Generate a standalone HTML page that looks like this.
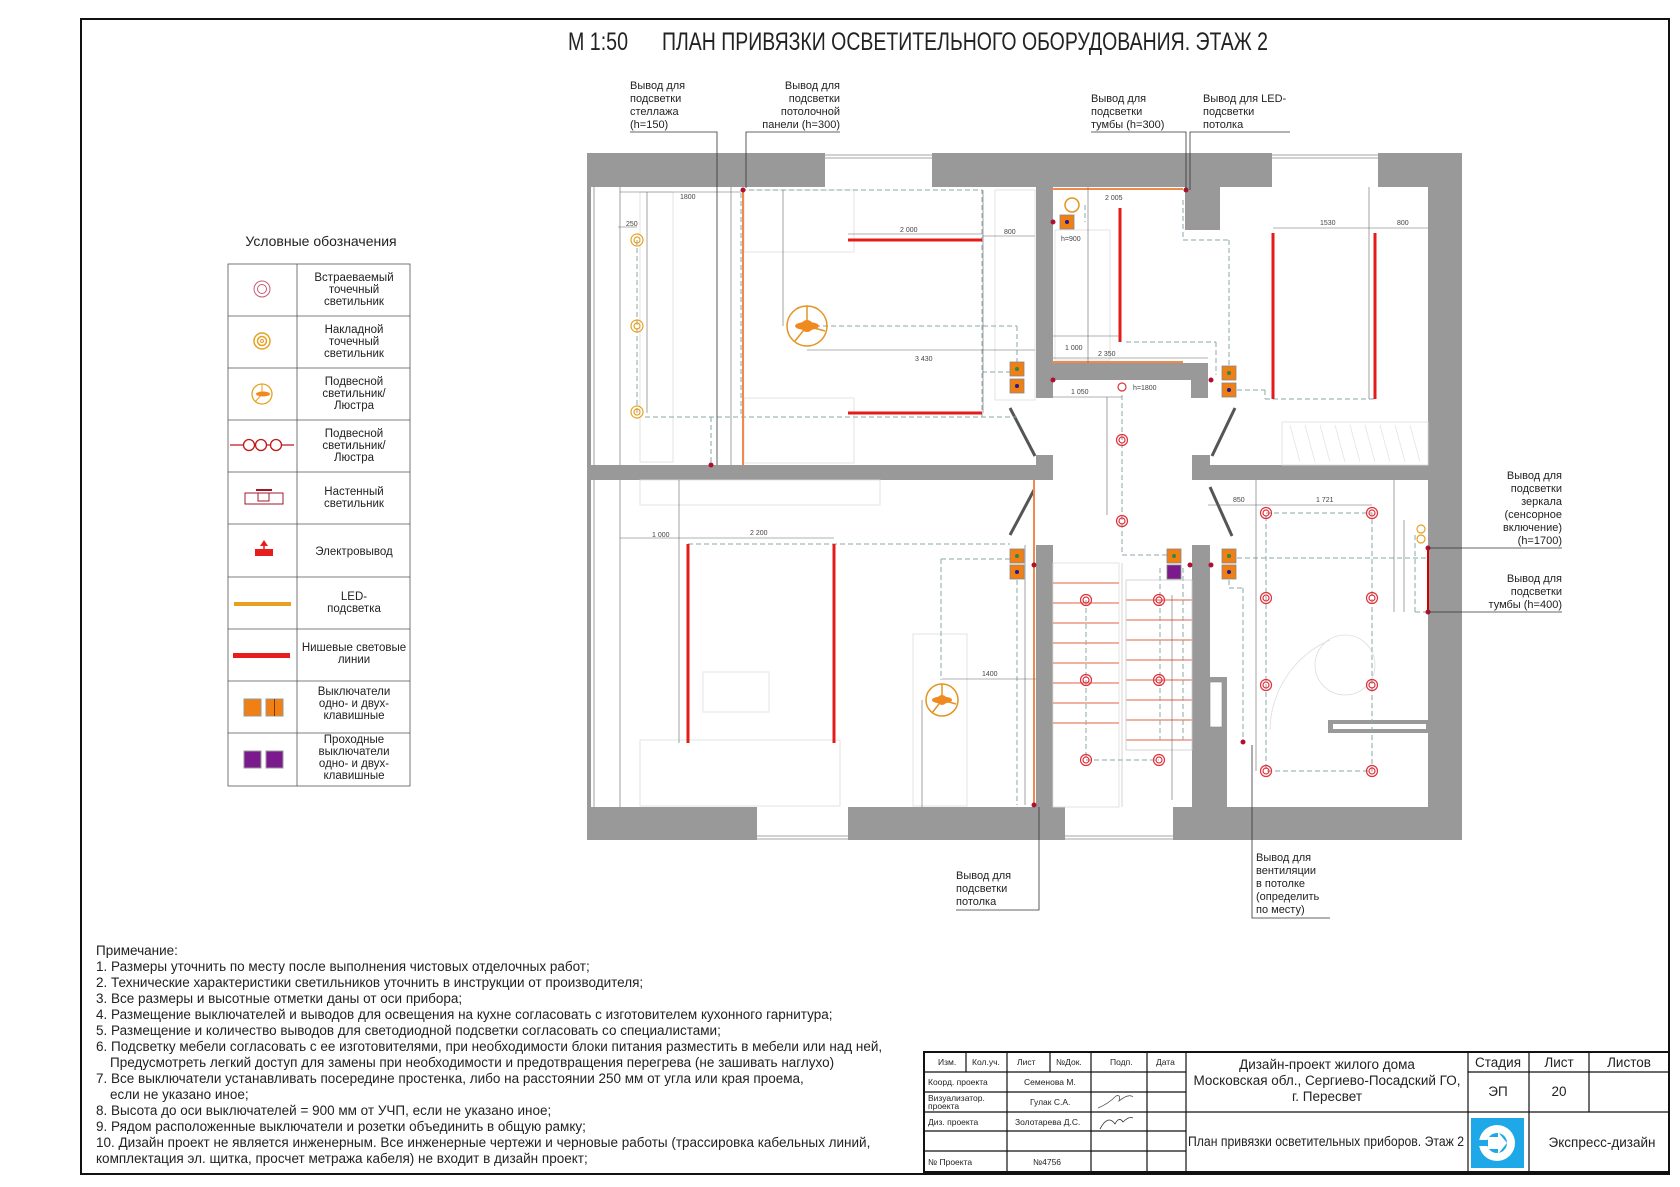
<!DOCTYPE html>
<html><head><meta charset="utf-8">
<style>
html,body{margin:0;padding:0;background:#fff;}
svg{display:block;}
text{font-family:"Liberation Sans Narrow","Liberation Sans","DejaVu Sans Condensed",sans-serif;fill:#222;}
.s{font-size:11px;}
.d{font-size:7px;fill:#444;}
.lg{font-size:11.5px;}
.n{font-size:13.5px;}
.tb{font-size:8.5px;}
</style></head><body>
<svg width="1680" height="1187" viewBox="0 0 1680 1187" xmlns="http://www.w3.org/2000/svg">
<rect x="81" y="19" width="1588" height="1155" fill="none" stroke="#111" stroke-width="2"/>
<text x="568" y="50" font-size="25" textLength="60" lengthAdjust="spacingAndGlyphs">М 1:50</text>
<text x="662" y="50" font-size="25" textLength="606" lengthAdjust="spacingAndGlyphs">ПЛАН ПРИВЯЗКИ ОСВЕТИТЕЛЬНОГО ОБОРУДОВАНИЯ. ЭТАЖ 2</text>

<!-- ===== PLAN WALLS ===== -->
<g fill="#999">
<rect x="587" y="153" width="238" height="34"/>
<rect x="932" y="153" width="340" height="34"/>
<rect x="1378" y="153" width="84" height="34"/>
<rect x="1185" y="153" width="35" height="77"/>
<rect x="587" y="153" width="4" height="687"/>
<rect x="1428" y="153" width="34" height="687"/>
<rect x="587" y="807" width="170" height="33"/>
<rect x="848" y="807" width="217" height="33"/>
<rect x="1173" y="807" width="289" height="33"/>
<rect x="587" y="465" width="449" height="15"/>
<rect x="1192" y="465" width="270" height="15"/>
<rect x="1036" y="187" width="17" height="211"/>
<rect x="1036" y="455" width="17" height="25"/>
<rect x="1036" y="545" width="17" height="295"/>
<rect x="1036" y="363" width="172" height="17"/>
<rect x="1036" y="363" width="17" height="35"/>
<rect x="1191" y="363" width="17" height="35"/>
<rect x="1192" y="455" width="18" height="25"/>
<rect x="1192" y="545" width="18" height="295"/>
<rect x="1210" y="677" width="17" height="163"/>
<rect x="1328" y="720" width="100" height="13"/>
</g>
<rect x="1333" y="724" width="93" height="5" fill="#fff"/>
<rect x="1210" y="682" width="12" height="45" fill="#fff" stroke="#888" stroke-width="0.6"/>
<g stroke="#888" stroke-width="0.8" fill="none">
<line x1="825" y1="155" x2="932" y2="155"/><line x1="825" y1="158" x2="932" y2="158"/>
<line x1="1272" y1="155" x2="1378" y2="155"/><line x1="1272" y1="158" x2="1378" y2="158"/>
<line x1="757" y1="836" x2="848" y2="836"/><line x1="757" y1="839" x2="848" y2="839"/>
<line x1="1065" y1="836" x2="1173" y2="836"/><line x1="1065" y1="839" x2="1173" y2="839"/>
<line x1="594" y1="187" x2="594" y2="465"/><line x1="594" y1="480" x2="594" y2="807"/>
<line x1="620" y1="187" x2="620" y2="465"/><line x1="620" y1="480" x2="620" y2="807"/>
</g>
<g stroke="#ddd" stroke-width="0.8" fill="none">
<rect x="744" y="190" width="110" height="62"/>
<rect x="744" y="398" width="110" height="65"/>
<rect x="640" y="192" width="33" height="270"/>
<rect x="640" y="480" width="240" height="25"/>
<rect x="640" y="740" width="200" height="66"/>
<rect x="703" y="672" width="66" height="40"/>
<rect x="913" y="634" width="54" height="172"/>
<rect x="1055" y="230" width="55" height="130"/>
<rect x="1282" y="422" width="146" height="43"/>
<rect x="995" y="190" width="40" height="210"/>
<rect x="1053" y="563" width="66" height="244"/>
<path d="M1330 640 a100 100 0 0 0 -60 90" />
<circle cx="1345" cy="665" r="30"/>
</g>
<g stroke="#e4e4e4" stroke-width="0.8">
<line x1="1290" y1="425" x2="1300" y2="462"/><line x1="1305" y1="425" x2="1315" y2="462"/><line x1="1320" y1="425" x2="1330" y2="462"/><line x1="1335" y1="425" x2="1345" y2="462"/><line x1="1350" y1="425" x2="1360" y2="462"/><line x1="1365" y1="425" x2="1375" y2="462"/><line x1="1380" y1="425" x2="1390" y2="462"/><line x1="1395" y1="425" x2="1405" y2="462"/><line x1="1410" y1="425" x2="1420" y2="462"/>
</g>
<g stroke="#555" stroke-width="3">
<line x1="1010" y1="408" x2="1035" y2="456"/>
<line x1="1010" y1="535" x2="1034" y2="490"/>
<line x1="1235" y1="408" x2="1212" y2="456"/>
<line x1="1232" y1="536" x2="1210" y2="487"/>
</g>

<g stroke="#8aa" stroke-width="1" stroke-dasharray="5,3" fill="none">
<rect x="741" y="190" width="241" height="227"/>
<line x1="637" y1="240" x2="637" y2="413"/>
<line x1="645" y1="417" x2="1017" y2="417"/>
<line x1="807" y1="326" x2="1017" y2="326"/>
<line x1="982" y1="372" x2="1010" y2="372"/>
<line x1="1017" y1="326" x2="1017" y2="362"/>
<line x1="711" y1="417" x2="711" y2="465"/>
<line x1="1183" y1="200" x2="1183" y2="240"/><line x1="1183" y1="240" x2="1229" y2="240"/><line x1="1229" y1="240" x2="1229" y2="365"/>
<line x1="1126" y1="342" x2="1216" y2="342"/><line x1="1216" y1="342" x2="1216" y2="375"/>
<line x1="1237" y1="390" x2="1265" y2="390"/><line x1="1265" y1="390" x2="1265" y2="399"/>
<line x1="1265" y1="399" x2="1375" y2="399"/>
<line x1="1122" y1="395" x2="1122" y2="555"/><line x1="1122" y1="555" x2="1168" y2="555"/>
<line x1="1160" y1="568" x2="1160" y2="740"/><line x1="1086" y1="600" x2="1086" y2="760"/><line x1="1086" y1="760" x2="1159" y2="760"/>
<line x1="1183" y1="568" x2="1183" y2="740"/>
<line x1="688" y1="544" x2="1010" y2="544"/>
<line x1="941" y1="559" x2="1010" y2="559"/><line x1="941" y1="559" x2="941" y2="680"/>
<line x1="1017" y1="580" x2="1017" y2="805"/>
<rect x="1266" y="513" width="106" height="258"/>
<line x1="1237" y1="558" x2="1426" y2="558"/>
<line x1="1229" y1="580" x2="1229" y2="588"/><line x1="1229" y1="588" x2="1243" y2="588"/><line x1="1243" y1="588" x2="1243" y2="740"/>
<line x1="1415" y1="535" x2="1415" y2="612"/><line x1="1415" y1="612" x2="1428" y2="612"/>
<line x1="1085" y1="205" x2="1085" y2="222"/>
</g>

<g stroke="#e8806a" stroke-width="1.2">
<line x1="1053" y1="583" x2="1119" y2="583"/><line x1="1053" y1="603" x2="1119" y2="603"/><line x1="1053" y1="623" x2="1119" y2="623"/><line x1="1053" y1="643" x2="1119" y2="643"/><line x1="1053" y1="663" x2="1119" y2="663"/><line x1="1053" y1="683" x2="1119" y2="683"/><line x1="1053" y1="703" x2="1119" y2="703"/><line x1="1053" y1="723" x2="1119" y2="723"/>
<line x1="1126" y1="600" x2="1192" y2="600"/><line x1="1126" y1="620" x2="1192" y2="620"/><line x1="1126" y1="640" x2="1192" y2="640"/><line x1="1126" y1="660" x2="1192" y2="660"/><line x1="1126" y1="680" x2="1192" y2="680"/><line x1="1126" y1="700" x2="1192" y2="700"/><line x1="1126" y1="720" x2="1192" y2="720"/><line x1="1126" y1="740" x2="1192" y2="740"/>
</g>
<g stroke="#ccc" stroke-width="0.8" fill="none"><line x1="1122" y1="563" x2="1122" y2="807"/><rect x="1126" y="580" width="66" height="170"/></g>

<g stroke="#f08a4b" stroke-width="2">
<line x1="1052" y1="189" x2="1183" y2="189"/>
<line x1="1052" y1="362" x2="1183" y2="362"/>
<line x1="1034" y1="480" x2="1034" y2="805"/>
<line x1="743" y1="190" x2="743" y2="465"/>
</g>
<g stroke="#e31b1b" stroke-width="3">
<line x1="848" y1="240" x2="982" y2="240"/>
<line x1="848" y1="413" x2="982" y2="413"/>
<line x1="1120" y1="208" x2="1120" y2="342"/>
<line x1="1273" y1="233" x2="1273" y2="399"/>
<line x1="1375" y1="233" x2="1375" y2="399"/>
<line x1="688" y1="544" x2="688" y2="743"/>
<line x1="834" y1="544" x2="834" y2="743"/>
</g>
<line x1="1428" y1="548" x2="1428" y2="612" stroke="#c00" stroke-width="2"/>

<g stroke="#666" stroke-width="0.6" fill="none">
<line x1="620" y1="192" x2="741" y2="192"/>
<line x1="647" y1="192" x2="647" y2="413"/>
<line x1="618" y1="227" x2="637" y2="227"/>
<line x1="731" y1="187" x2="731" y2="465"/>
<line x1="848" y1="234" x2="982" y2="234"/>
<line x1="982" y1="236" x2="1035" y2="236"/>
<line x1="983" y1="190" x2="983" y2="413"/>
<line x1="783" y1="190" x2="783" y2="326"/>
<line x1="807" y1="350" x2="1035" y2="350"/>
<line x1="1088" y1="187" x2="1088" y2="363"/>
<line x1="1053" y1="336" x2="1120" y2="336"/>
<line x1="1053" y1="358" x2="1208" y2="358"/>
<line x1="1053" y1="397" x2="1122" y2="397"/>
<line x1="1273" y1="228" x2="1428" y2="228"/>
<line x1="1369" y1="187" x2="1369" y2="399"/>
<line x1="1107" y1="397" x2="1107" y2="515"/>
<line x1="620" y1="538" x2="834" y2="538"/>
<line x1="679" y1="480" x2="679" y2="743"/>
<line x1="942" y1="679" x2="1036" y2="679"/>
<line x1="922" y1="700" x2="922" y2="807"/>
<line x1="1025" y1="545" x2="1025" y2="805"/>
<line x1="1172" y1="595" x2="1172" y2="800"/>
<line x1="1208" y1="505" x2="1372" y2="505"/>
<line x1="1256" y1="480" x2="1256" y2="771"/>
<line x1="1394" y1="480" x2="1394" y2="612"/>
<line x1="1404" y1="520" x2="1404" y2="612"/>
</g>
<g class="d">
<text x="680" y="199" class="d">1800</text><text x="626" y="226" class="d">250</text>
<text x="900" y="232" class="d">2 000</text><text x="1004" y="234" class="d">800</text>
<text x="915" y="361" class="d">3 430</text><text x="1105" y="200" class="d">2 005</text>
<text x="1320" y="225" class="d">1530</text><text x="1397" y="225" class="d">800</text>
<text x="652" y="537" class="d">1 000</text><text x="750" y="535" class="d">2 200</text>
<text x="982" y="676" class="d">1400</text><text x="1065" y="350" class="d">1 000</text>
<text x="1098" y="356" class="d">2 350</text><text x="1071" y="394" class="d">1 050</text>
<text x="1316" y="502" class="d">1 721</text><text x="1233" y="502" class="d">850</text>
<text x="1061" y="241" class="d" font-size="9">h=900</text><text x="1133" y="390" class="d" font-size="9">h=1800</text>
</g>

<g fill="none" stroke="#e0303a" stroke-width="1.2">
<circle cx="1122" cy="440" r="5.5"/><circle cx="1122" cy="440" r="3"/>
<circle cx="1122" cy="521" r="5.5"/><circle cx="1122" cy="521" r="3"/>
<circle cx="1086" cy="600" r="5.5"/><circle cx="1086" cy="600" r="3"/>
<circle cx="1159" cy="600" r="5.5"/><circle cx="1159" cy="600" r="3"/>
<circle cx="1086" cy="680" r="5.5"/><circle cx="1086" cy="680" r="3"/>
<circle cx="1159" cy="680" r="5.5"/><circle cx="1159" cy="680" r="3"/>
<circle cx="1086" cy="760" r="5.5"/><circle cx="1086" cy="760" r="3"/>
<circle cx="1159" cy="760" r="5.5"/><circle cx="1159" cy="760" r="3"/>
<circle cx="1266" cy="513" r="5.5"/><circle cx="1266" cy="513" r="3"/>
<circle cx="1372" cy="513" r="5.5"/><circle cx="1372" cy="513" r="3"/>
<circle cx="1266" cy="598" r="5.5"/><circle cx="1266" cy="598" r="3"/>
<circle cx="1372" cy="598" r="5.5"/><circle cx="1372" cy="598" r="3"/>
<circle cx="1266" cy="685" r="5.5"/><circle cx="1266" cy="685" r="3"/>
<circle cx="1372" cy="685" r="5.5"/><circle cx="1372" cy="685" r="3"/>
<circle cx="1266" cy="771" r="5.5"/><circle cx="1266" cy="771" r="3"/>
<circle cx="1372" cy="771" r="5.5"/><circle cx="1372" cy="771" r="3"/>
<circle cx="1122" cy="387" r="4"/>
</g>
<g fill="none" stroke="#e8a020" stroke-width="1.2">
<circle cx="637" cy="240" r="6"/><circle cx="637" cy="240" r="3"/>
<circle cx="637" cy="326" r="6"/><circle cx="637" cy="326" r="3"/>
<circle cx="637" cy="412" r="6"/><circle cx="637" cy="412" r="3"/>
<circle cx="1421" cy="529" r="4"/><circle cx="1421" cy="539" r="4"/>
</g>
<g stroke="#e39422" stroke-width="1.5" fill="none">
<circle cx="807" cy="326" r="20"/><line x1="807" y1="326" x2="807" y2="306"/><line x1="807" y1="326" x2="795" y2="341"/><line x1="807" y1="326" x2="825" y2="331"/>
<circle cx="942" cy="700" r="16"/><line x1="942" y1="700" x2="942" y2="684"/><line x1="942" y1="700" x2="932" y2="713"/><line x1="942" y1="700" x2="956" y2="704"/>
<circle cx="1072" cy="205" r="7"/>
</g>
<g fill="#f08a20"><ellipse cx="807" cy="326" rx="12" ry="4"/><circle cx="807" cy="326" r="6"/><ellipse cx="942" cy="700" rx="10" ry="3.5"/><circle cx="942" cy="700" r="5"/></g>

<g stroke="#888" stroke-width="0.8">
<g fill="#f07f14">
<rect x="1010" y="362" width="14" height="14"/><rect x="1010" y="379" width="14" height="14"/>
<rect x="1060" y="215" width="14" height="14"/>
<rect x="1222" y="366" width="14" height="14"/><rect x="1222" y="383" width="14" height="14"/>
<rect x="1010" y="549" width="14" height="14"/><rect x="1010" y="565" width="14" height="14"/>
<rect x="1167" y="549" width="14" height="14"/>
<rect x="1222" y="549" width="14" height="14"/><rect x="1222" y="565" width="14" height="14"/>
</g>
<rect x="1167" y="565" width="14" height="14" fill="#7a1a8c"/>
</g>
<g fill="#1a1a9a"><circle cx="1017" cy="386" r="2"/><circle cx="1067" cy="222" r="2"/><circle cx="1229" cy="390" r="2"/><circle cx="1017" cy="572" r="2"/><circle cx="1229" cy="572" r="2"/></g>
<g fill="#2a8a4a"><circle cx="1017" cy="369" r="2"/><circle cx="1229" cy="373" r="2"/><circle cx="1017" cy="556" r="2"/><circle cx="1174" cy="556" r="2"/><circle cx="1229" cy="556" r="2"/></g>
<g fill="#b01030"><circle cx="743" cy="190" r="2.5"/><circle cx="711" cy="465" r="2.5"/><circle cx="1186" cy="190" r="2.5"/><circle cx="1053" cy="222" r="2.5"/><circle cx="1053" cy="380" r="2.5"/><circle cx="1211" cy="380" r="2.5"/><circle cx="1034" cy="565" r="2.5"/><circle cx="1034" cy="805" r="2.5"/><circle cx="1190" cy="565" r="2.5"/><circle cx="1211" cy="565" r="2.5"/><circle cx="1243" cy="742" r="2.5"/><circle cx="1428" cy="548" r="2.5"/><circle cx="1428" cy="612" r="2.5"/></g>

<g stroke="#333" stroke-width="0.8" fill="none">
<polyline points="630,132 717,132 717,465"/>
<polyline points="840,132 746,132 746,188"/>
<polyline points="1091,132 1186,132 1186,190"/>
<polyline points="1290,132 1190,132 1190,190"/>
<line x1="1428" y1="548" x2="1562" y2="548"/>
<line x1="1428" y1="612" x2="1562" y2="612"/>
<polyline points="956,910 1039,910 1039,807"/>
<polyline points="1330,918 1252,918 1252,745"/>
</g>
<g class="s">
<text x="630" y="89">Вывод для</text><text x="630" y="102">подсветки</text><text x="630" y="115">стеллажа</text><text x="630" y="128">(h=150)</text>
<text x="840" y="89" text-anchor="end">Вывод для</text><text x="840" y="102" text-anchor="end">подсветки</text><text x="840" y="115" text-anchor="end">потолочной</text><text x="840" y="128" text-anchor="end">панели (h=300)</text>
<text x="1091" y="102">Вывод для</text><text x="1091" y="115">подсветки</text><text x="1091" y="128">тумбы (h=300)</text>
<text x="1203" y="102">Вывод для LED-</text><text x="1203" y="115">подсветки</text><text x="1203" y="128">потолка</text>
<g text-anchor="end">
<text x="1562" y="479">Вывод для</text><text x="1562" y="492">подсветки</text><text x="1562" y="505">зеркала</text><text x="1562" y="518">(сенсорное</text><text x="1562" y="531">включение)</text><text x="1562" y="544">(h=1700)</text>
<text x="1562" y="582">Вывод для</text><text x="1562" y="595">подсветки</text><text x="1562" y="608">тумбы (h=400)</text>
</g>
<text x="956" y="879">Вывод для</text><text x="956" y="892">подсветки</text><text x="956" y="905">потолка</text>
<text x="1256" y="861">Вывод для</text><text x="1256" y="874">вентиляции</text><text x="1256" y="887">в потолке</text><text x="1256" y="900">(определить</text><text x="1256" y="913">по месту)</text>
</g>

<text x="321" y="246" text-anchor="middle" font-size="14">Условные обозначения</text>
<g stroke="#555" stroke-width="0.8" fill="none">
<rect x="228" y="264" width="182" height="522"/>
<line x1="297" y1="264" x2="297" y2="786"/>
<line x1="228" y1="316" x2="410" y2="316"/><line x1="228" y1="368" x2="410" y2="368"/><line x1="228" y1="420" x2="410" y2="420"/><line x1="228" y1="472" x2="410" y2="472"/><line x1="228" y1="524" x2="410" y2="524"/><line x1="228" y1="577" x2="410" y2="577"/><line x1="228" y1="629" x2="410" y2="629"/><line x1="228" y1="681" x2="410" y2="681"/><line x1="228" y1="733" x2="410" y2="733"/>
</g>
<g fill="none"><circle cx="262" cy="289" r="8" stroke="#c85a78" stroke-width="1"/><circle cx="262" cy="289" r="4.5" stroke="#c85a78" stroke-width="1"/>
<circle cx="262" cy="341" r="8" stroke="#e8a020" stroke-width="1.5"/><circle cx="262" cy="341" r="4.5" stroke="#e8a020" stroke-width="1.5"/><circle cx="262" cy="341" r="1.5" stroke="#e8a020"/>
<circle cx="262" cy="394" r="10" stroke="#e8a020" stroke-width="1.3"/><line x1="262" y1="394" x2="262" y2="384" stroke="#e8a020"/><line x1="262" y1="394" x2="255" y2="402" stroke="#e8a020"/><ellipse cx="263" cy="394" rx="7" ry="2.5" fill="#f08a20" stroke="none"/>
<g stroke="#c01818" stroke-width="1.3"><line x1="230" y1="445" x2="294" y2="445"/><circle cx="249" cy="445" r="5.5" fill="#fff"/><circle cx="261" cy="445" r="5.5" fill="#fff"/><circle cx="276" cy="445" r="5.5" fill="#fff"/></g>
<g stroke="#a01828" stroke-width="1"><rect x="245" y="493" width="38" height="11"/><rect x="258" y="493" width="11" height="8"/><line x1="256" y1="490" x2="272" y2="490" stroke-width="2"/></g>
</g>
<rect x="255" y="549" width="18" height="7" fill="#e81e1e"/><path d="M264 540 l4 6 h-8z" fill="#e81e1e"/><line x1="264" y1="545" x2="264" y2="549" stroke="#e81e1e" stroke-width="1.5"/>
<rect x="234" y="602" width="57" height="4" fill="#e8a020"/>
<rect x="233" y="653" width="57" height="5" fill="#e81e1e"/>
<g stroke="#999" stroke-width="1"><rect x="244" y="699" width="17" height="17" fill="#f07f14"/><rect x="266" y="699" width="17" height="17" fill="#f07f14"/><rect x="244" y="751" width="17" height="17" fill="#7a1a8c"/><rect x="266" y="751" width="17" height="17" fill="#7a1a8c"/></g>
<line x1="274.5" y1="699" x2="274.5" y2="716" stroke="#7a3a00"/>
<g class="lg" text-anchor="middle">
<text x="354" y="281">Встраеваемый</text><text x="354" y="293">точечный</text><text x="354" y="305">светильник</text>
<text x="354" y="333">Накладной</text><text x="354" y="345">точечный</text><text x="354" y="357">светильник</text>
<text x="354" y="385">Подвесной</text><text x="354" y="397">светильник/</text><text x="354" y="409">Люстра</text>
<text x="354" y="437">Подвесной</text><text x="354" y="449">светильник/</text><text x="354" y="461">Люстра</text>
<text x="354" y="495">Настенный</text><text x="354" y="507">светильник</text>
<text x="354" y="555">Электровывод</text>
<text x="354" y="600">LED-</text><text x="354" y="612">подсветка</text>
<text x="354" y="651">Нишевые световые</text><text x="354" y="663">линии</text>
<text x="354" y="695">Выключатели</text><text x="354" y="707">одно- и двух-</text><text x="354" y="719">клавишные</text>
<text x="354" y="743">Проходные</text><text x="354" y="755">выключатели</text><text x="354" y="767">одно- и двух-</text><text x="354" y="779">клавишные</text>
</g>

<g class="n">
<text x="96" y="955">Примечание:</text>
<text x="96" y="971">1. Размеры уточнить по месту после выполнения чистовых отделочных работ;</text>
<text x="96" y="987">2. Технические характеристики светильников уточнить в инструкции от производителя;</text>
<text x="96" y="1003">3. Все размеры и высотные отметки даны от оси прибора;</text>
<text x="96" y="1019">4. Размещение выключателей и выводов для освещения на кухне согласовать с изготовителем кухонного гарнитура;</text>
<text x="96" y="1035">5. Размещение и количество выводов для светодиодной подсветки согласовать со специалистами;</text>
<text x="96" y="1051">6. Подсветку мебели согласовать с ее изготовителями, при необходимости блоки питания разместить в мебели или над ней,</text>
<text x="110" y="1067">Предусмотреть легкий доступ для замены при необходимости и предотвращения перегрева (не зашивать наглухо)</text>
<text x="96" y="1083">7. Все выключатели устанавливать посередине простенка, либо на расстоянии 250 мм от угла или края проема,</text>
<text x="110" y="1099">если не указано иное;</text>
<text x="96" y="1115">8. Высота до оси выключателей = 900 мм от УЧП, если не указано иное;</text>
<text x="96" y="1131">9. Рядом расположенные выключатели и розетки объединить в общую рамку;</text>
<text x="96" y="1147" fill="#e0404a">10. Дизайн проект не является инженерным. Все инженерные чертежи и черновые работы (трассировка кабельных линий,</text>
<text x="96" y="1163" fill="#e0404a">комплектация эл. щитка, просчет метража кабеля) не входит в дизайн проект;</text>
</g>

<g stroke="#111" fill="none">
<rect x="924" y="1052" width="745" height="120" stroke-width="2"/>
<g stroke-width="1.2">
<line x1="924" y1="1072" x2="1186" y2="1072"/><line x1="924" y1="1092" x2="1186" y2="1092"/><line x1="924" y1="1112" x2="1186" y2="1112"/><line x1="924" y1="1131" x2="1186" y2="1131"/><line x1="924" y1="1151" x2="1186" y2="1151"/>
<line x1="966" y1="1052" x2="966" y2="1072"/><line x1="1007" y1="1052" x2="1007" y2="1172"/><line x1="1050" y1="1052" x2="1050" y2="1072"/><line x1="1091" y1="1052" x2="1091" y2="1172"/><line x1="1147" y1="1052" x2="1147" y2="1172"/><line x1="1186" y1="1052" x2="1186" y2="1172"/>
<line x1="1186" y1="1112" x2="1669" y2="1112"/><line x1="1468" y1="1072" x2="1669" y2="1072"/>
<line x1="1468" y1="1052" x2="1468" y2="1172"/><line x1="1529" y1="1052" x2="1529" y2="1112"/><line x1="1589" y1="1052" x2="1589" y2="1112"/><line x1="1529" y1="1112" x2="1529" y2="1172"/>
</g></g>
<g class="tb">
<text x="938" y="1065">Изм.</text><text x="972" y="1065">Кол.уч.</text><text x="1017" y="1065">Лист</text><text x="1056" y="1065">№Док.</text><text x="1110" y="1065">Подп.</text><text x="1156" y="1065">Дата</text>
<text x="928" y="1085">Коорд. проекта</text><text x="1024" y="1085">Семенова М.</text>
<text x="928" y="1101">Визуализатор.</text><text x="928" y="1109">проекта</text><text x="1030" y="1105">Гулак С.А.</text>
<text x="928" y="1125">Диз. проекта</text><text x="1015" y="1125">Золотарева Д.С.</text>
<text x="928" y="1165">№ Проекта</text><text x="1033" y="1165">№4756</text>
</g>
<path d="M1098 1108 q10 -4 18 -12 q5 -2 3 5 q10 -8 14 -4" stroke="#555" fill="none" stroke-width="0.8"/>
<path d="M1100 1129 q8 -15 15 -5 q4 -8 8 -2 q6 -6 10 -4" stroke="#333" fill="none" stroke-width="0.8"/>
<g font-size="13.5" text-anchor="middle">
<text x="1327" y="1069">Дизайн-проект жилого дома</text>
<text x="1327" y="1085">Московская обл., Сергиево-Посадский ГО,</text>
<text x="1327" y="1101">г. Пересвет</text>
<text x="1498" y="1067">Стадия</text><text x="1559" y="1067">Лист</text><text x="1629" y="1067">Листов</text>
<text x="1498" y="1096">ЭП</text><text x="1559" y="1096">20</text>
<text x="1602" y="1147">Экспресс-дизайн</text>
</g>
<text x="1326" y="1146" font-size="13.5" text-anchor="middle" textLength="276" lengthAdjust="spacingAndGlyphs">План привязки осветительных приборов. Этаж 2</text>
<rect x="1471" y="1118" width="53" height="50" fill="#1ea8e8"/>
<circle cx="1497" cy="1143" r="18" fill="#fff"/>
<circle cx="1497" cy="1143" r="10" fill="#1ea8e8"/>
<rect x="1479" y="1140" width="20" height="6" fill="#1ea8e8"/>
<path d="M1488 1137 h10 v-5 l9 11 l-9 11 v-5 h-10z" fill="#fff"/>
</svg>
</body></html>
